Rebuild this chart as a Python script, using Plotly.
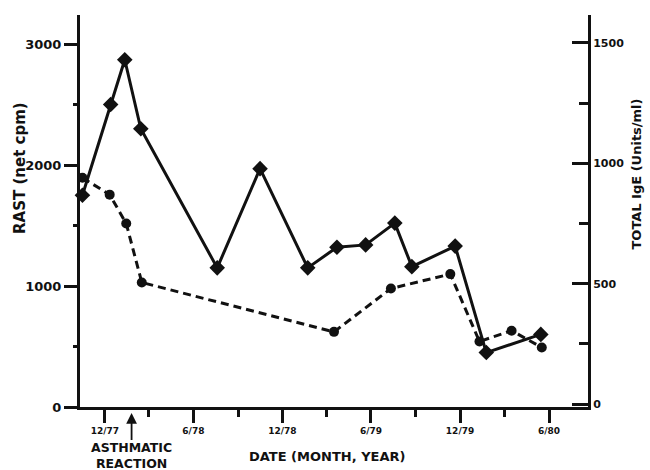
import plotly.graph_objects as go

# RAST (net cpm), left axis -- solid line with diamonds
rast_dates = ["1977-10-16", "1977-12-13", "1978-01-11", "1978-02-13", "1978-07-20",
              "1978-10-16", "1979-01-22", "1979-03-23", "1979-05-21", "1979-07-20",
              "1979-08-24", "1979-11-21", "1980-01-24", "1980-05-15"]
rast_values = [1750, 2500, 2870, 2300, 1150, 1970, 1150, 1320, 1340, 1520,
               1160, 1330, 450, 600]

# Total IgE (Units/ml), right axis -- dashed line with circles
ige_dates = ["1977-10-16", "1977-12-11", "1978-01-14", "1978-02-15", "1979-03-17",
             "1979-07-12", "1979-11-11", "1980-01-10", "1980-03-16", "1980-05-17"]
ige_values = [940, 870, 750, 505, 300, 480, 540, 260, 305, 235]

# Date axis ticks
major_ticks = ["1977-12-01", "1978-06-01", "1978-12-01", "1979-06-01", "1979-12-01", "1980-06-01"]
major_labels = ["12/77", "6/78", "12/78", "6/79", "12/79", "6/80"]
minor_ticks = ["1978-03-01", "1978-09-01", "1979-03-01", "1979-09-01", "1980-03-01"]

reaction_date = "1978-01-25"

INK = "#111111"
FONT = "DejaVu Sans"


def bold(size):
    return dict(family=FONT, size=size, color=INK, weight="bold")


fig = go.Figure()
fig.add_trace(go.Scatter(
    x=rast_dates, y=rast_values, mode="lines+markers", name="RAST",
    line=dict(color=INK, width=3),
    marker=dict(symbol="diamond", size=12, color=INK),
    cliponaxis=False,
))
fig.add_trace(go.Scatter(
    x=ige_dates, y=ige_values, mode="lines+markers", name="Total IgE", yaxis="y2",
    line=dict(color=INK, width=3, dash="8px,5px"),
    marker=dict(symbol="circle", size=10, color=INK),
    cliponaxis=False,
))

fig.update_layout(
    width=650, height=470,
    margin=dict(l=80, r=62, t=15, b=63),
    paper_bgcolor="white", plot_bgcolor="white",
    showlegend=False,
    xaxis=dict(
        type="date", range=["1977-10-11", "1980-08-20"],
        tickmode="array", tickvals=major_ticks, ticktext=major_labels,
        ticks="outside", ticklen=13, tickwidth=2.5, tickcolor=INK,
        tickfont=bold(9),
        minor=dict(tickmode="array", tickvals=minor_ticks, ticks="outside",
                   ticklen=7, tickwidth=2.5, tickcolor=INK),
        showline=True, linecolor=INK, linewidth=3,
        showgrid=False, zeroline=False,
    ),
    yaxis=dict(
        range=[0, 3240], tickvals=[0, 1000, 2000, 3000],
        ticks="outside", ticklen=13, tickwidth=2.5, tickcolor=INK,
        tickfont=bold(13),
        minor=dict(tickmode="array", tickvals=[500, 1500, 2500], ticks="outside",
                   ticklen=4, tickwidth=2.5, tickcolor=INK),
        showline=True, linecolor=INK, linewidth=3,
        showgrid=False, zeroline=False,
    ),
    yaxis2=dict(
        overlaying="y", side="right",
        range=[-12, 1616], tickvals=[0, 500, 1000, 1500],
        ticks="inside", ticklen=16, tickwidth=2.5, tickcolor=INK,
        tickfont=bold(11),
        minor=dict(tickmode="array", tickvals=[250, 750, 1250], ticks="inside",
                   ticklen=9, tickwidth=2.5, tickcolor=INK),
        showline=True, linecolor=INK, linewidth=3,
        showgrid=False, zeroline=False,
    ),
)

# Axis titles
fig.add_annotation(text="RAST (net cpm)", xref="paper", yref="paper",
                   x=-0.118, y=0.61, xanchor="center", yanchor="middle",
                   textangle=-90, showarrow=False, font=bold(15))
fig.add_annotation(text="TOTAL IgE (Units/ml)", xref="paper", yref="paper",
                   x=1.096, y=0.595, xanchor="center", yanchor="middle",
                   textangle=-90, showarrow=False, font=bold(13))
fig.add_annotation(text="DATE (MONTH, YEAR)", xref="paper", yref="paper",
                   x=0.487, y=-0.125, xanchor="center", yanchor="middle",
                   showarrow=False, font=bold(13))

# Asthmatic reaction marker: arrow pointing up at the date axis
fig.add_annotation(text="ASTHMATIC<br>REACTION", x=reaction_date, y=-0.015,
                   xref="x", yref="paper", ax=0, ay=43,
                   showarrow=True, arrowhead=2, arrowsize=1.2, arrowwidth=1.8,
                   arrowcolor=INK, font=bold(12.5), borderpad=0)

fig.write_html("out.html")
